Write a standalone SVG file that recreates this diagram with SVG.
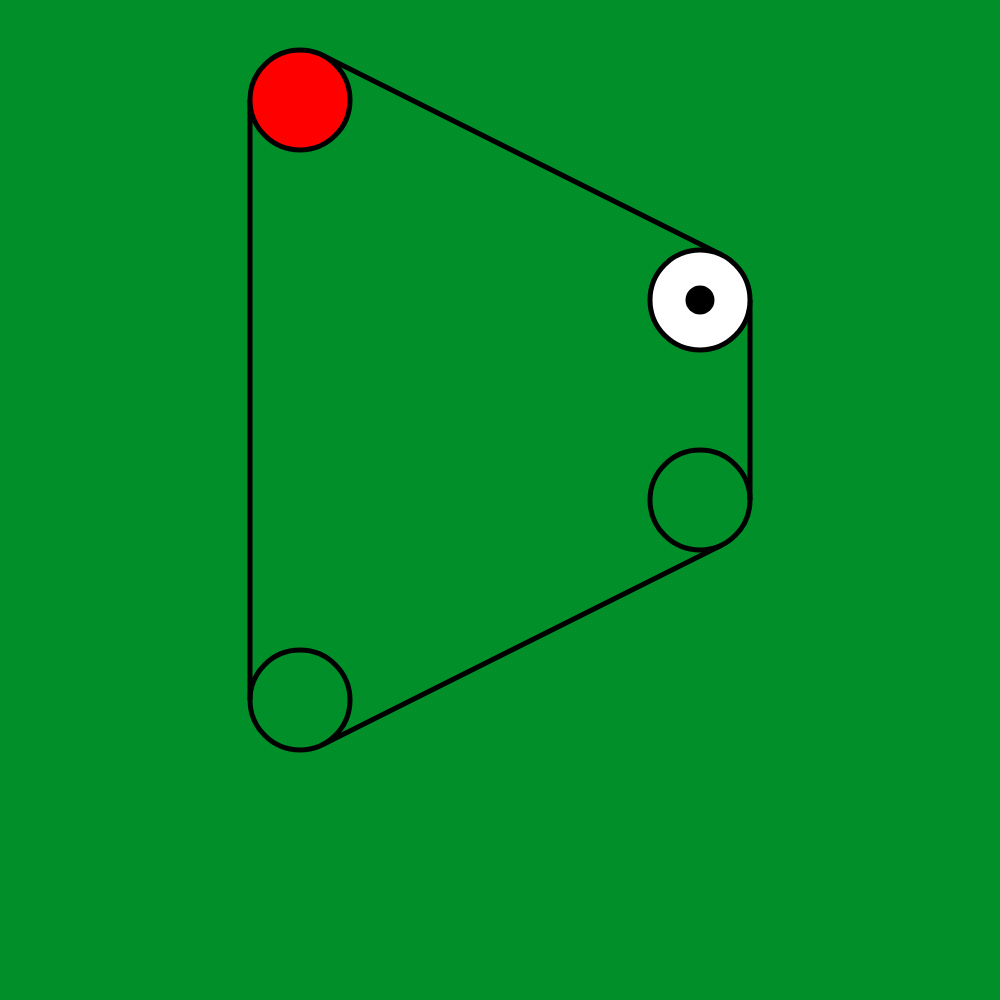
<svg xmlns="http://www.w3.org/2000/svg" width="1000" height="1000" viewBox="0 0 1000 1000">
<style>
.belt{fill:none;stroke:#000;stroke-width:5}
.pulley{stroke:#000;stroke-width:5}
</style>
<rect width="1000" height="1000" fill="#008f29"/>
<g id="belt">
<line class="belt" x1="250" y1="100" x2="250" y2="700"/>
<line class="belt" x1="322.4" y1="55.3" x2="722.4" y2="255.3"/>
<line class="belt" x1="750" y1="300" x2="750" y2="500"/>
<line class="belt" x1="722.4" y1="544.7" x2="322.4" y2="744.7"/>
</g>
<g id="pulley1"><circle class="pulley" cx="300" cy="100" r="50" fill="#ff0000"/></g>
<g id="pulley2"><circle class="pulley" cx="700" cy="300" r="50" fill="#ffffff"/><circle cx="700" cy="300" r="14.5" fill="#000"/></g>
<g id="pulley3"><circle class="pulley" cx="700" cy="500" r="50" fill="none"/></g>
<g id="pulley4"><circle class="pulley" cx="300" cy="700" r="50" fill="none"/></g>
</svg>
